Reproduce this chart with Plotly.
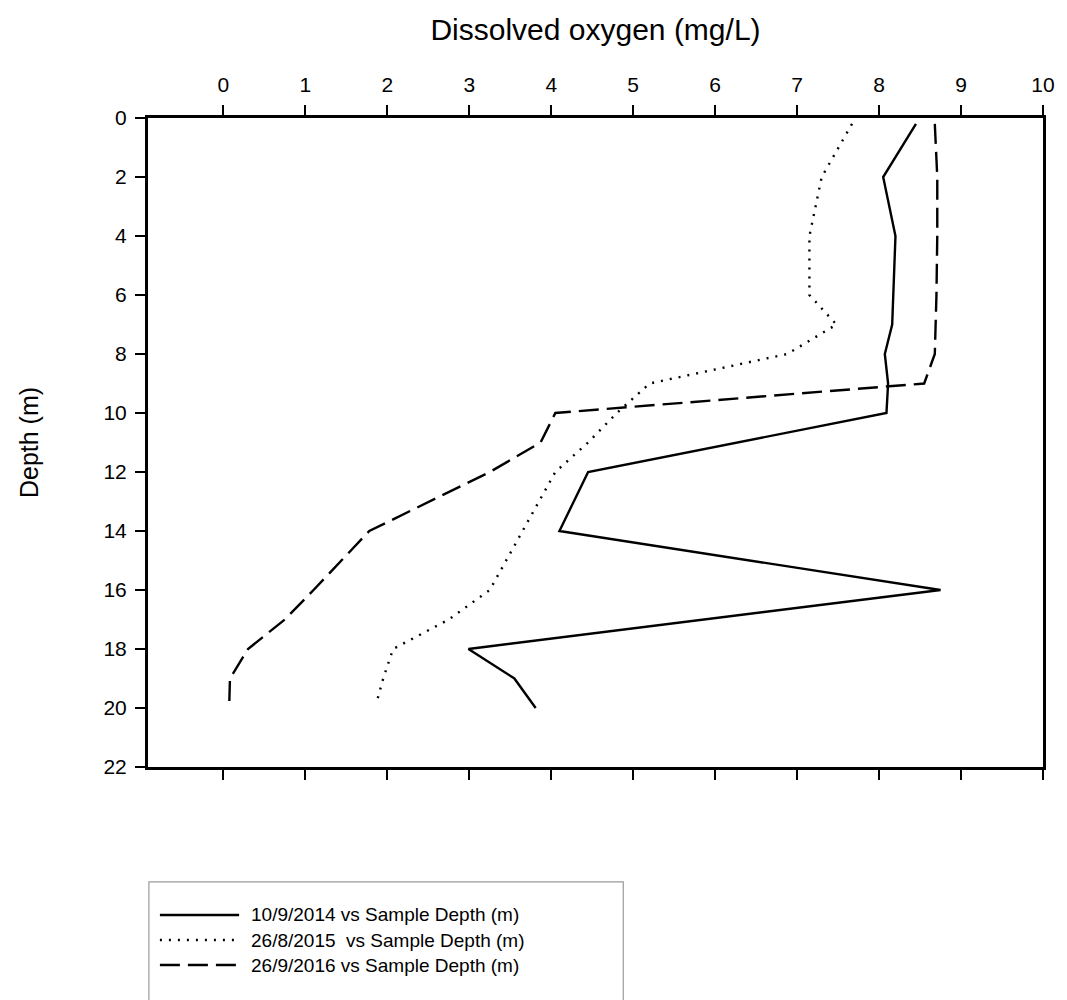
import plotly.graph_objects as go

# Dissolved oxygen profiles (mg/L) against sample depth (m)
depth_2014 = [0.2, 2, 4, 6, 7, 8, 9, 10, 12, 14, 16, 18, 19, 20]
do_2014 = [8.45, 8.05, 8.2, 8.17, 8.16, 8.07, 8.11, 8.09, 4.45, 4.1, 8.75, 2.99, 3.55, 3.81]

depth_2015 = [0.2, 2, 4, 6, 7, 8, 9, 10, 11, 12, 14, 16, 17, 18, 19, 19.8]
do_2015 = [7.67, 7.3, 7.15, 7.15, 7.48, 6.88, 5.2, 4.8, 4.45, 4.05, 3.65, 3.25, 2.75, 2.07, 1.95, 1.87]

depth_2016 = [0.2, 2, 4, 6, 8, 9, 10, 11, 12, 14, 16, 17, 18, 19, 20]
do_2016 = [8.68, 8.71, 8.71, 8.7, 8.68, 8.55, 4.05, 3.87, 3.25, 1.78, 1.1, 0.75, 0.3, 0.08, 0.07]

series_names = [
    "10/9/2014 vs Sample Depth (m)",
    "26/8/2015  vs Sample Depth (m)",
    "26/9/2016 vs Sample Depth (m)",
]
series_dash = ["solid", "2px,7px", "20px,8px"]

x_ticks = list(range(0, 11))
y_ticks = list(range(0, 23, 2))

FONT = "Liberation Sans, Arial, sans-serif"
LINE_W = 2.4

fig = go.Figure()
for name, xs, ys, dash in zip(series_names,
                              [do_2014, do_2015, do_2016],
                              [depth_2014, depth_2015, depth_2016],
                              series_dash):
    fig.add_trace(go.Scatter(x=xs, y=ys, mode="lines", name=name,
                             line=dict(color="black", width=LINE_W, dash=dash)))

# Key below the plot: framed box with a line sample and label per series
key_rows_y = [-0.228, -0.2666, -0.3051]
shapes = [
    dict(type="rect", xref="paper", yref="paper",
         x0=0.001, x1=0.531, y0=-0.177, y1=-0.37,
         line=dict(color="#9a9a9a", width=1.2), fillcolor="rgba(0,0,0,0)"),
]
annotations = []
for name, dash, ry in zip(series_names, series_dash, key_rows_y):
    shapes.append(dict(type="line", xref="paper", yref="paper",
                       x0=0.0133, x1=0.1018, y0=ry, y1=ry,
                       line=dict(color="black", width=LINE_W, dash=dash)))
    annotations.append(dict(xref="paper", yref="paper", x=0.1128, y=ry,
                            xanchor="left", yanchor="middle", showarrow=False,
                            text=name, font=dict(family=FONT, size=19, color="black")))

fig.update_layout(
    width=1067, height=1000,
    margin=dict(l=148, r=15, t=118, b=233),
    paper_bgcolor="white", plot_bgcolor="white",
    font=dict(family=FONT, color="black", size=21),
    showlegend=False,
    xaxis=dict(
        side="top", range=[-0.92, 10], tickvals=x_ticks,
        showgrid=False, zeroline=False,
        showline=True, linecolor="black", linewidth=3, mirror="ticks",
        ticks="outside", ticklen=10, tickwidth=2, tickcolor="black",
        tickfont=dict(size=21), ticklabelstandoff=5,
        title=dict(text="Dissolved oxygen (mg/L)", font=dict(size=30), standoff=24),
    ),
    yaxis=dict(
        range=[22, 0], tickvals=y_ticks,
        showgrid=False, zeroline=False,
        showline=True, linecolor="black", linewidth=3, mirror=True,
        ticks="outside", ticklen=10, tickwidth=2, tickcolor="black",
        tickfont=dict(size=21), ticklabelstandoff=4,
        title=dict(text="Depth (m)", font=dict(size=25), standoff=58),
    ),
    shapes=shapes,
    annotations=annotations,
)

fig.write_html("out.html")
